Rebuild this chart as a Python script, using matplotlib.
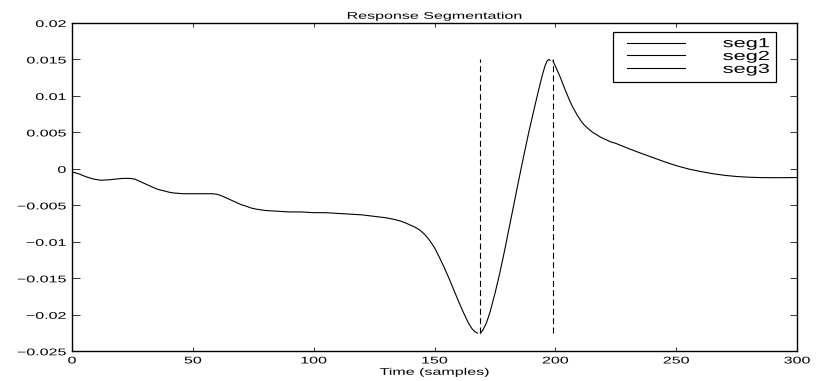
import matplotlib
matplotlib.use('Agg')
import matplotlib.pyplot as plt
from matplotlib.lines import Line2D
from matplotlib.legend_handler import HandlerLine2D
from matplotlib.patheffects import AbstractPathEffect
from matplotlib.transforms import Affine2D

# response samples, split into three segments
seg1_t = [0, 3, 6, 9, 12, 15, 18, 21, 24, 26, 28, 30, 32, 34, 36, 38, 40, 42, 46, 50, 54,
          58, 60, 62, 64, 66, 68, 70, 72, 74, 76, 78, 80, 85, 90, 95, 100, 105, 110, 115,
          120, 125, 130, 133, 136, 138, 140, 142, 144, 146, 148, 150, 152, 154, 156, 158,
          160, 162, 164, 165.5, 166.7, 167.8]
seg1_y = [-0.0004, -0.0007, -0.0011, -0.0014, -0.00155, -0.0015, -0.0014, -0.0013, -0.0013,
          -0.0014, -0.0017, -0.0020, -0.0023, -0.0026, -0.00285, -0.0030, -0.00318, -0.0033,
          -0.0034, -0.0034, -0.0034, -0.0034, -0.00348, -0.0037, -0.0040, -0.0043, -0.0046,
          -0.0049, -0.0051, -0.00535, -0.0055, -0.0056, -0.0057, -0.0058, -0.0059, -0.0059,
          -0.0060, -0.0060, -0.0061, -0.0062, -0.0063, -0.0065, -0.0067, -0.0069, -0.00715,
          -0.0074, -0.0077, -0.0080, -0.0084, -0.0090, -0.0098, -0.0108, -0.0121, -0.0135,
          -0.0150, -0.0166, -0.0182, -0.0197, -0.0211, -0.0219, -0.0223, -0.0225]

seg2_t = [169, 170, 171.5, 173, 175, 177, 179, 181, 183, 185, 187, 189, 191, 193, 194.5,
          195.7, 196.6, 197.3, 197.8]
seg2_y = [-0.0225, -0.0221, -0.0211, -0.0196, -0.0171, -0.0143, -0.0112, -0.0079, -0.0046,
          -0.0013, 0.0019, 0.0050, 0.0079, 0.0107, 0.0127, 0.0141, 0.0148, 0.0150, 0.0149]

seg3_t = [199, 200, 202, 204, 206, 207, 208, 209, 210, 211, 212, 213, 214, 215.5, 217, 219,
          221, 223, 225, 228, 231, 235, 240, 245, 250, 255, 260, 265, 270, 275, 280, 285,
          290, 295, 300]
seg3_y = [0.0148, 0.0141, 0.0126, 0.0109, 0.0093, 0.0086, 0.0080, 0.0074, 0.0069, 0.0064,
          0.0060, 0.0057, 0.0054, 0.0050, 0.0047, 0.0043, 0.0040, 0.0037, 0.0035, 0.0031,
          0.0027, 0.0022, 0.0016, 0.0010, 0.00045, 0.0000, -0.00035, -0.00065, -0.00088,
          -0.00104, -0.00114, -0.00119, -0.0012, -0.0012, -0.00118]

# segment boundaries
split_t = [169, 199]
split_lo = -0.0225
split_hi = 0.015

xticks = [0, 50, 100, 150, 200, 250, 300]
yticks = [-0.025, -0.02, -0.015, -0.01, -0.005, 0, 0.005, 0.01, 0.015, 0.02]
ytick_labels = ['\u22120.025', '\u22120.02', '\u22120.015', '\u22120.01', '\u22120.005',
                '0', '0.005', '0.01', '0.015', '0.02']


class WideText(AbstractPathEffect):
    """Draw text glyphs widened horizontally, pinned at one side or the middle."""

    def __init__(self, sx=1.65, pin='center'):
        super().__init__()
        self.sx = sx
        self.pin = pin

    def draw_path(self, renderer, gc, tpath, affine, rgbFace=None):
        ext = tpath.get_extents()
        x0 = {'left': ext.x0, 'right': ext.x1, 'center': 0.5 * (ext.x0 + ext.x1)}[self.pin]
        t = Affine2D().translate(-x0, 0).scale(self.sx, 1).translate(x0, 0) + affine
        renderer.draw_path(gc, tpath, t, rgbFace)


plt.rcParams['font.family'] = 'Liberation Sans'

fig = plt.figure(figsize=(8.29, 3.81), dpi=100)
ax = fig.add_axes([72 / 829, 29.7 / 381, 725 / 829, 328.3 / 381])

ax.plot(seg1_t, seg1_y, color='black', lw=0.8, label='seg1')
ax.plot(seg2_t, seg2_y, color='black', lw=0.8, label='seg2')
ax.plot(seg3_t, seg3_y, color='black', lw=0.8, label='seg3')
ax.vlines(split_t, split_lo, split_hi, colors='black', lw=0.8,
          linestyles=(0, (5.4, 3.0)))

ax.set_xlim(0, 300)
ax.set_ylim(-0.025, 0.02)
ax.set_xticks(xticks)
ax.set_xticklabels([str(v) for v in xticks])
ax.set_yticks(yticks)
ax.set_yticklabels(ytick_labels)

for s in ax.spines.values():
    s.set_linewidth(1.0)
ax.tick_params(direction='in', top=True, right=True, labelsize=7, width=0.7, color='#333333')
ax.tick_params(axis='x', length=3.2, pad=3)
ax.tick_params(axis='y', length=5.4, pad=4.3)

ttl = ax.set_title('Response Segmentation', fontsize=7, pad=3)
xl = ax.set_xlabel('Time (samples)', fontsize=7, labelpad=1)
ttl.set_path_effects([WideText(1.65, 'center')])
xl.set_path_effects([WideText(1.65, 'center')])
for lbl in ax.get_xticklabels():
    lbl.set_path_effects([WideText(1.65, 'center')])
for lbl in ax.get_yticklabels():
    lbl.set_path_effects([WideText(1.65, 'right')])

leg = ax.legend(loc='upper right', bbox_to_anchor=(0.971, 0.9735), borderaxespad=0,
                prop={'size': 9.5}, labelspacing=0.05, borderpad=0.47,
                handlelength=5.0, handletextpad=4.2, fancybox=False,
                edgecolor='black', framealpha=1,
                handler_map={Line2D: HandlerLine2D(xpad=0.6)})
leg.get_frame().set_linewidth(0.9)
for txt in leg.get_texts():
    txt.set_path_effects([WideText(1.65, 'right')])

fig.savefig('out.png', dpi=100)
